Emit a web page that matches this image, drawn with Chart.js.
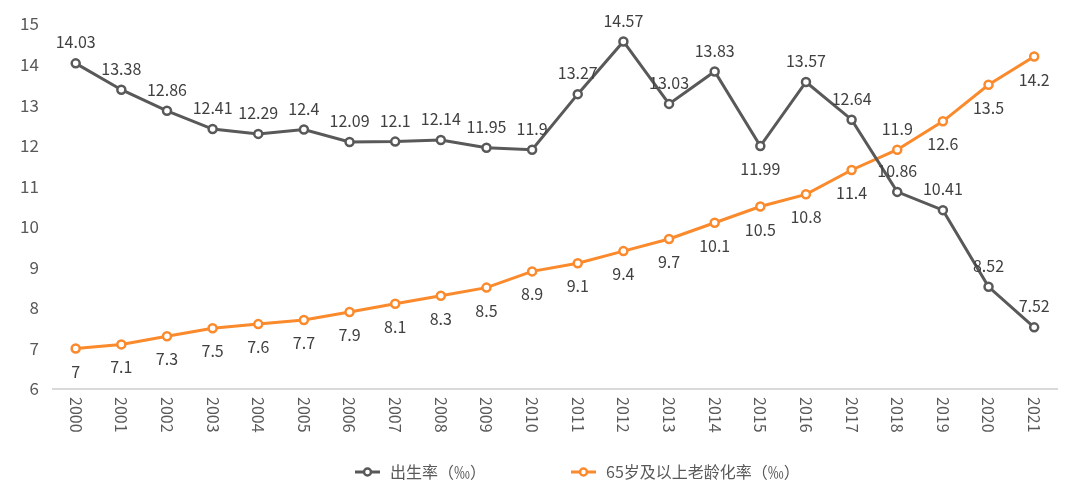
<!DOCTYPE html>
<html>
<head>
<meta charset="utf-8">
<script src="https://cdn.jsdelivr.net/npm/chart.js@4/dist/chart.umd.min.js"></script>
<style>
  html, body { margin: 0; padding: 0; background: #fff; }
  #wrap { width: 1080px; height: 498px; }
</style>
</head>
<body>
<div id="wrap"><canvas id="lineChart" width="1080" height="498"></canvas></div>
<script>
// data
const years = ['2000', '2001', '2002', '2003', '2004', '2005', '2006', '2007', '2008', '2009', '2010',
               '2011', '2012', '2013', '2014', '2015', '2016', '2017', '2018', '2019', '2020', '2021'];
const birthRate = [14.03, 13.38, 12.86, 12.41, 12.29, 12.4, 12.09, 12.1, 12.14, 11.95, 11.9,
                   13.27, 14.57, 13.03, 13.83, 11.99, 13.57, 12.64, 10.86, 10.41, 8.52, 7.52];
const agingRate = [7, 7.1, 7.3, 7.5, 7.6, 7.7, 7.9, 8.1, 8.3, 8.5, 8.9,
                   9.1, 9.4, 9.7, 10.1, 10.5, 10.8, 11.4, 11.9, 12.6, 13.5, 14.2];
const seriesNames = ['出生率（‰）', '65岁及以上老龄化率（‰）'];

const GRAY = '#595959';
const ORANGE = '#fa8a2c';
const TEXT = '#404040';
const FONT = '"Noto Sans CJK SC", "Noto Sans", sans-serif';

// which labels sit on the other side of their point
const birthBelow = [15];
const agingAbove = [18];

const labelPlugin = {
    id: 'pointLabels',
    afterDatasetsDraw(chart) {
        const ctx = chart.ctx;
        ctx.save();
        ctx.font = '16px ' + FONT;
        ctx.fillStyle = TEXT;
        ctx.textAlign = 'center';
        ctx.textBaseline = 'middle';
        chart.data.datasets.forEach((ds, di) => {
            const meta = chart.getDatasetMeta(di);
            meta.data.forEach((pt, i) => {
                let up = di === 0 ? !birthBelow.includes(i) : agingAbove.includes(i);
                const dy = up ? -21 : 23;
                ctx.fillText(String(ds.data[i]), pt.x, pt.y + dy);
            });
        });

        // x labels, turned clockwise
        const xs = chart.scales.x;
        ctx.fillStyle = GRAY;
        ctx.textAlign = 'left';
        years.forEach((y, i) => {
            ctx.save();
            ctx.translate(xs.getPixelForValue(i), chart.chartArea.bottom + 8);
            ctx.rotate(Math.PI / 2);
            ctx.fillText(y, 0, 0);
            ctx.restore();
        });

        // legend
        const ly = 472;
        let lx = 355;
        [GRAY, ORANGE].forEach((col, i) => {
            ctx.strokeStyle = col;
            ctx.lineWidth = 3;
            ctx.beginPath();
            ctx.moveTo(lx, ly);
            ctx.lineTo(lx + 25, ly);
            ctx.stroke();
            ctx.beginPath();
            ctx.fillStyle = '#fff';
            ctx.lineWidth = 2.5;
            ctx.arc(lx + 12.5, ly, 3.5, 0, Math.PI * 2);
            ctx.fill();
            ctx.stroke();
            ctx.fillStyle = GRAY;
            ctx.fillText(seriesNames[i], lx + 35, ly);
            lx += 35 + ctx.measureText(seriesNames[i]).width + 85;
        });
        ctx.restore();
    }
};

const lineChart = document.getElementById('lineChart').getContext('2d');
new Chart(lineChart, {
    type: 'line',
    data: {
        labels: years,
        datasets: [{
            label: seriesNames[0],
            data: birthRate,
            borderColor: GRAY,
            backgroundColor: '#fff',
            borderWidth: 3,
            pointRadius: 4,
            pointBorderWidth: 2.5,
            pointBackgroundColor: '#fff',
            pointBorderColor: GRAY,
            fill: false
        }, {
            label: seriesNames[1],
            data: agingRate,
            borderColor: ORANGE,
            backgroundColor: '#fff',
            borderWidth: 3,
            pointRadius: 4,
            pointBorderWidth: 2.5,
            pointBackgroundColor: '#fff',
            pointBorderColor: ORANGE,
            fill: false
        }]
    },
    options: {
        responsive: false,
        animation: false,
        layout: {
            padding: { left: 14, right: 23, top: 24, bottom: 101 }
        },
        scales: {
            x: {
                offset: true,
                grid: { display: false },
                border: { display: true, color: '#d9d9d9', width: 2 },
                ticks: { display: false }
            },
            y: {
                min: 6,
                max: 15,
                grid: { display: false },
                border: { display: false },
                ticks: {
                    stepSize: 1,
                    padding: 6,
                    color: GRAY,
                    font: { family: FONT, size: 17 }
                }
            }
        },
        plugins: {
            legend: { display: false },
            tooltip: { enabled: false }
        }
    },
    plugins: [labelPlugin]
});
</script>
</body>
</html>
